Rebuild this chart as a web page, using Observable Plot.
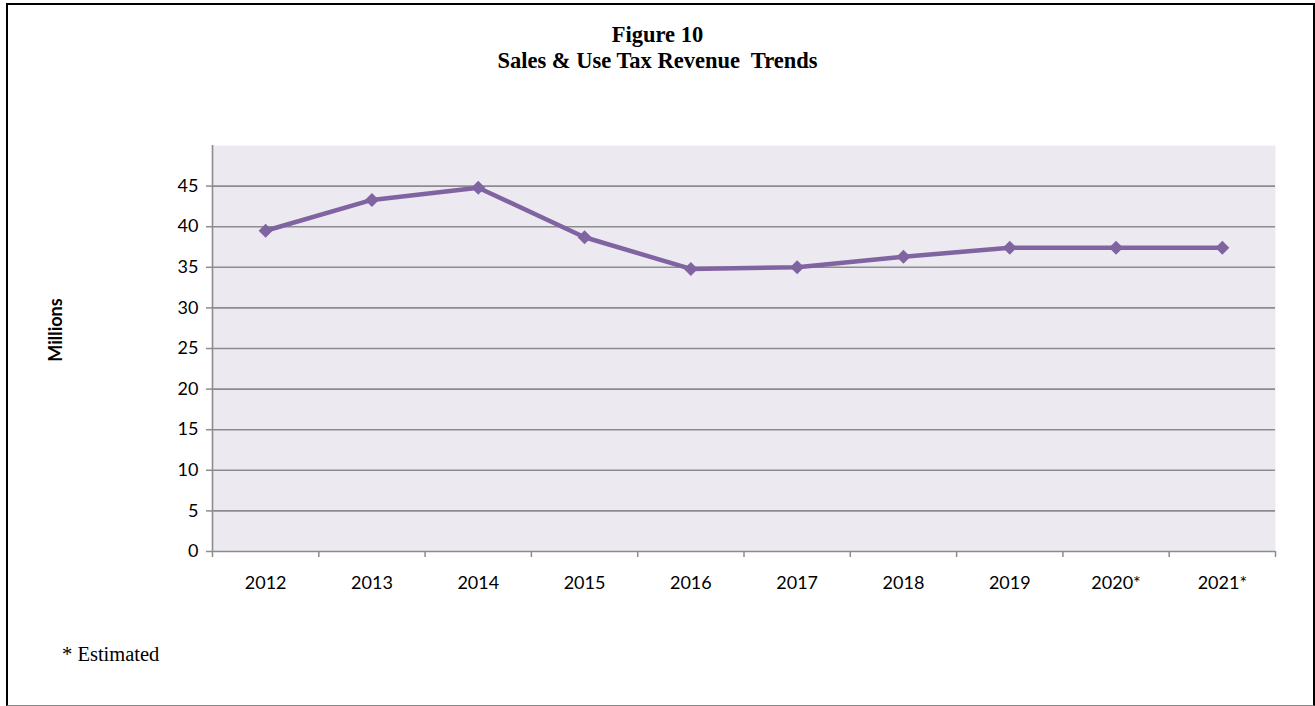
<!DOCTYPE html>
<html>
<head>
<meta charset="utf-8">
<script src="https://cdn.jsdelivr.net/npm/d3@7"></script>
<script src="https://cdn.jsdelivr.net/npm/@observablehq/plot@0.6"></script>
<style>
  html, body { margin: 0; padding: 0; background: #fff; }
  #wrap { position: relative; width: 1315px; height: 706px; overflow: hidden; background: #fff; }
  #border { position: absolute; left: 6px; top: 3px; width: 1305px; height: 700px;
            border: 2px solid #000; border-bottom: 1px solid #888; box-sizing: content-box; }
  .title { position: absolute; left: 0; width: 1315px; text-align: center;
           font-family: "Liberation Serif", "DejaVu Serif", serif; font-weight: bold;
           font-size: 22.5px; color: #000; white-space: pre; line-height: 1; }
  #note { position: absolute; left: 62px; top: 644px; font-family: "Liberation Serif", serif;
          font-size: 20.5px; color: #000; line-height: 1; }
  #ylabel { position: absolute; left: 55px; top: 330px; transform: translate(-50%, -50%) rotate(-90deg);
            font-family: Lato, "Liberation Sans", sans-serif; font-weight: bold; font-size: 18px; color: #000;
            white-space: nowrap; }
  #chart { position: absolute; left: 0; top: 0; }
</style>
</head>
<body>
<div id="wrap">
  <div id="border"></div>
  <div class="title" style="top:24px">Figure 10</div>
  <div class="title" style="top:50px">Sales &amp; Use Tax Revenue  Trends</div>
  <div id="ylabel">Millions</div>
  <div id="note">* Estimated</div>
  <div id="chart"></div>
</div>
<script>
const years = ["2012", "2013", "2014", "2015", "2016", "2017", "2018", "2019", "2020*", "2021*"];
const revenue = [39.5, 43.3, 44.8, 38.7, 34.8, 35.0, 36.3, 37.4, 37.4, 37.4];
const yTicks = [0, 5, 10, 15, 20, 25, 30, 35, 40, 45];

const data = years.map((y, i) => ({i, year: y, value: revenue[i]}));
const idx = years.map((_, i) => i);
const bounds = d3.range(-0.5, years.length, 1);

const gray = "#8c8c8c";
const font = "Lato, 'Liberation Sans', sans-serif";

const chart = Plot.plot({
  width: 1315,
  height: 706,
  marginLeft: 212,
  marginRight: 40,
  marginTop: 145,
  marginBottom: 155,
  style: {background: "transparent", fontFamily: font, fontSize: "18px", color: "#000"},
  x: {type: "linear", domain: [-0.5, years.length - 0.5]},
  y: {domain: [0, 50]},
  marks: [
    Plot.frame({fill: "#ECE9F0", stroke: null}),
    Plot.ruleY(yTicks.filter(d => d > 0), {stroke: gray, strokeWidth: 1.6}),
    Plot.axisY({ticks: yTicks, tickSize: 6, tickPadding: 8, stroke: gray, strokeWidth: 1.5,
                fontSize: 18, fill: "#000", label: null}),
    Plot.axisX({ticks: bounds, tickSize: 6, tickFormat: () => "", stroke: gray, strokeWidth: 1.5, label: null}),
    Plot.axisX({ticks: idx, tickSize: 0, tickPadding: 25, tickFormat: i => years[i],
                fontSize: 18, fill: "#000", label: null}),
    Plot.ruleY([0], {stroke: gray, strokeWidth: 1.6}),
    Plot.ruleX([-0.5], {stroke: gray, strokeWidth: 1.6}),
    Plot.line(data, {x: "i", y: "value", stroke: "#8064A2", strokeWidth: 4.5, strokeLinejoin: "round"}),
    Plot.dot(data, {x: "i", y: "value", symbol: "diamond2", r: 6.3, fill: "#8064A2", stroke: null})
  ]
});
document.getElementById("chart").appendChild(chart);
</script>
</body>
</html>
